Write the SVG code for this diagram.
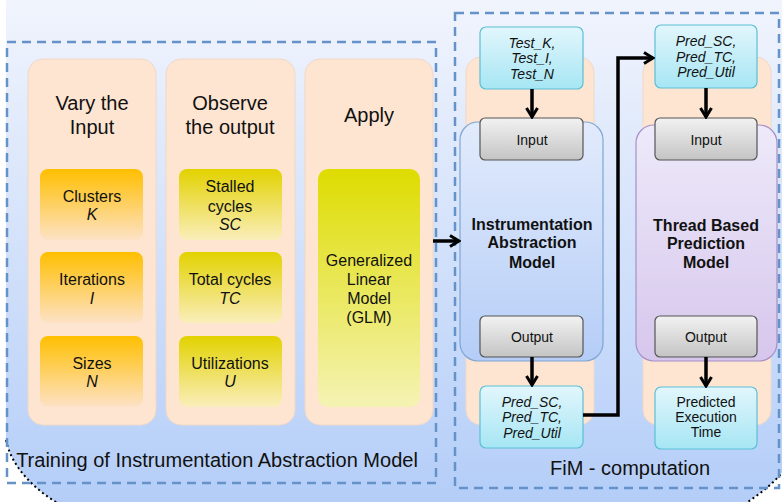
<svg xmlns="http://www.w3.org/2000/svg" width="782" height="502" viewBox="0 0 782 502">
<defs>
<linearGradient id="bg" x1="0" y1="0" x2="0" y2="1"><stop offset="0" stop-color="#f2f5fd"/><stop offset="1" stop-color="#b3cdf8"/></linearGradient>
<linearGradient id="orange" x1="0" y1="0" x2="0" y2="1"><stop offset="0" stop-color="#ffbf00"/><stop offset="1" stop-color="#fde2c6"/></linearGradient>
<linearGradient id="yellow" x1="0" y1="0" x2="0" y2="1"><stop offset="0" stop-color="#e2d200"/><stop offset="1" stop-color="#faeebb"/></linearGradient>
<linearGradient id="lime" x1="0" y1="0" x2="0" y2="1"><stop offset="0" stop-color="#dedc00"/><stop offset="1" stop-color="#f5f3b4"/></linearGradient>
<linearGradient id="cyan" x1="0" y1="0" x2="0" y2="1"><stop offset="0" stop-color="#e2f6fc"/><stop offset="1" stop-color="#a6e6f4"/></linearGradient>
<linearGradient id="gray" x1="0" y1="0" x2="0" y2="1"><stop offset="0" stop-color="#f2f2f2"/><stop offset="1" stop-color="#c4c4c4"/></linearGradient>
<linearGradient id="blue" x1="0" y1="0" x2="0" y2="1"><stop offset="0" stop-color="#e2ebfc"/><stop offset="1" stop-color="#b5cdf7"/></linearGradient>
<linearGradient id="purple" x1="0" y1="0" x2="0" y2="1"><stop offset="0" stop-color="#eeeafa"/><stop offset="1" stop-color="#d6c6ec"/></linearGradient>
<marker id="arr" viewBox="0 0 14 14" refX="12" refY="7" markerWidth="14" markerHeight="14" markerUnits="userSpaceOnUse" orient="auto">
<path d="M3,1.5 L12,7 L3,12.5" fill="none" stroke="#000" stroke-width="3"/>
</marker>
</defs>
<style>
text{font-family:"Liberation Sans",Arial,sans-serif;fill:#111;text-anchor:middle}
.dash{fill:none;stroke:#6592c8;stroke-width:2.5;stroke-dasharray:9,6}
.panel{fill:#fde5d2;stroke:#f0d8c8;stroke-width:1}
.hd{font-size:20px}
.in{font-size:16px}
.it{font-style:italic}
.sm{font-size:14px}
.bd{font-size:16px;font-weight:bold}
.ttl{font-size:20px}
.cyan{fill:url(#cyan);stroke:#5cbfd6;stroke-width:1.2}
.grayb{fill:url(#gray);stroke:#555;stroke-width:1.2}
.conn{fill:none;stroke:#000;stroke-width:3.5;marker-end:url(#arr)}
</style>
<rect x="0" y="0" width="782" height="502" fill="#fff"/>
<path id="background" d="M6,-10 L800,-10 L800,440 C792,470 765,492 735,510 L70,510 C40,495 12,470 6,440 Z" fill="url(#bg)"/>
<path d="M6,440 C12,470 40,495 70,510 M800,440 C792,470 765,492 735,510" fill="none" stroke="#000" stroke-width="2" stroke-dasharray="2,3"/>

<g id="training">
<rect class="dash" x="7" y="42" width="429" height="441"/>
<text class="ttl" x="217" y="467">Training of Instrumentation Abstraction Model</text>
</g>

<g id="col-vary">
<rect class="panel" x="28" y="59" width="128" height="366" rx="15"/>
<text class="hd" x="92" y="110">Vary the</text>
<text class="hd" x="92" y="134">Input</text>
</g>
<g id="clusters"><rect x="40" y="169" width="103" height="71" rx="8" fill="url(#orange)"/><text class="in" x="92" y="202">Clusters</text><text class="in it" x="92" y="220">K</text></g>
<g id="iterations"><rect x="40" y="252" width="103" height="71" rx="8" fill="url(#orange)"/><text class="in" x="92" y="285">Iterations</text><text class="in it" x="92" y="304">I</text></g>
<g id="sizes"><rect x="40" y="336" width="103" height="71" rx="8" fill="url(#orange)"/><text class="in" x="92" y="369">Sizes</text><text class="in it" x="92" y="387">N</text></g>

<g id="col-observe">
<rect class="panel" x="166" y="59" width="129" height="366" rx="15"/>
<text class="hd" x="230" y="110">Observe</text>
<text class="hd" x="230" y="134">the output</text>
</g>
<g id="stalled"><rect x="179" y="169" width="103" height="71" rx="8" fill="url(#yellow)"/><text class="in" x="230" y="192">Stalled</text><text class="in" x="230" y="212">cycles</text><text class="in it" x="230" y="230">SC</text></g>
<g id="total"><rect x="179" y="252" width="103" height="71" rx="8" fill="url(#yellow)"/><text class="in" x="230" y="285">Total cycles</text><text class="in it" x="230" y="304">TC</text></g>
<g id="util"><rect x="179" y="336" width="103" height="71" rx="8" fill="url(#yellow)"/><text class="in" x="230" y="369">Utilizations</text><text class="in it" x="230" y="387">U</text></g>

<g id="col-apply">
<rect class="panel" x="305" y="59" width="128" height="366" rx="15"/>
<text class="hd" x="369" y="122">Apply</text>
</g>
<g id="glm"><rect x="318" y="169" width="102" height="238" rx="10" fill="url(#lime)"/>
<text class="in" x="369" y="266">Generalized</text><text class="in" x="369" y="285">Linear</text><text class="in" x="369" y="304">Model</text><text class="in" x="369" y="323">(GLM)</text></g>

<g id="fim">
<rect class="dash" x="455" y="13" width="324" height="475"/>
<text class="ttl" x="630" y="475">FiM - computation</text>
</g>

<g id="ia-column">
<rect class="panel" x="466" y="57" width="128" height="368" rx="15"/>
</g>
<g id="ia-model">
<rect x="460" y="122" width="143" height="239" rx="18" fill="url(#blue)" stroke="#7fa6d2" stroke-width="1.2"/>
<text class="bd" x="532" y="230">Instrumentation</text>
<text class="bd" x="532" y="248">Abstraction</text>
<text class="bd" x="532" y="268">Model</text>
</g>
<g id="test-in"><rect class="cyan" x="480" y="27" width="103" height="62" rx="6"/>
<text class="sm it" x="532" y="48">Test_K,</text><text class="sm it" x="532" y="63">Test_I,</text><text class="sm it" x="532" y="79">Test_N</text></g>
<g id="ia-input"><rect class="grayb" x="480" y="118" width="103" height="42" rx="5"/><text class="sm" x="532" y="145">Input</text></g>
<g id="ia-output"><rect class="grayb" x="480" y="316" width="103" height="41" rx="5"/><text class="sm" x="532" y="342">Output</text></g>
<g id="ia-pred"><rect class="cyan" x="480" y="386" width="103" height="62" rx="6"/>
<text class="sm it" x="532" y="407">Pred_SC,</text><text class="sm it" x="532" y="422">Pred_TC,</text><text class="sm it" x="532" y="438">Pred_Util</text></g>

<g id="tb-column">
<rect class="panel" x="643" y="57" width="128" height="368" rx="15"/>
</g>
<g id="tb-model">
<rect x="636" y="125" width="141" height="236" rx="18" fill="url(#purple)" stroke="#a690c8" stroke-width="1.2"/>
<text class="bd" x="706" y="231">Thread Based</text>
<text class="bd" x="706" y="249">Prediction</text>
<text class="bd" x="706" y="268">Model</text>
</g>
<g id="tb-pred-in"><rect class="cyan" x="655" y="25" width="102" height="63" rx="6"/>
<text class="sm it" x="706" y="46">Pred_SC,</text><text class="sm it" x="706" y="62">Pred_TC,</text><text class="sm it" x="706" y="77">Pred_Util</text></g>
<g id="tb-input"><rect class="grayb" x="655" y="118" width="102" height="42" rx="5"/><text class="sm" x="706" y="145">Input</text></g>
<g id="tb-output"><rect class="grayb" x="655" y="316" width="102" height="41" rx="5"/><text class="sm" x="706" y="342">Output</text></g>
<g id="exec-time"><rect class="cyan" x="655" y="387" width="102" height="62" rx="6"/>
<text class="sm" x="706" y="407">Predicted</text><text class="sm" x="706" y="422">Execution</text><text class="sm" x="706" y="437">Time</text></g>

<g id="connectors">
<path class="conn" d="M433,241 L459,241"/>
<path class="conn" d="M532,89 L532,117"/>
<path class="conn" d="M532,357 L532,385"/>
<path class="conn" d="M583,415 L618,415 L618,58 L653,58"/>
<path class="conn" d="M706,88 L706,117"/>
<path class="conn" d="M706,357 L706,386"/>
</g>
</svg>
